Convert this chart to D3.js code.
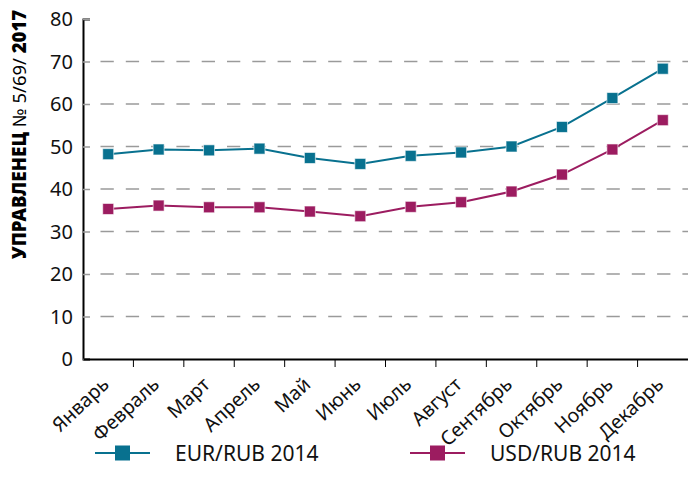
<!DOCTYPE html>
<html>
<head>
<meta charset="utf-8">
<script src="https://cdn.jsdelivr.net/npm/d3@7"></script>
<style>
  body { margin: 0; background: #fff; }
  svg { display: block; }
</style>
</head>
<body>
<script>
const width = 688;
const height = 490;

const months = ["Январь", "Февраль", "Март", "Апрель", "Май", "Июнь",
  "Июль", "Август", "Сентябрь", "Октябрь", "Ноябрь", "Декабрь"];
const eurRub = [48.2, 49.3, 49.1, 49.5, 47.3, 45.9, 47.8, 48.6, 50.0, 54.6, 61.4, 68.3];
const usdRub = [35.3, 36.1, 35.7, 35.7, 34.7, 33.6, 35.8, 36.9, 39.4, 43.4, 49.3, 56.2];
const yTicks = [0, 10, 20, 30, 40, 50, 60, 70, 80];
const seriesNames = ["EUR/RUB 2014", "USD/RUB 2014"];
const colors = ["#08718f", "#9c1c60"];

const plotLeft = 83, plotRight = 688, plotTop = 19, plotBottom = 359;

const svg = d3.select("body").append("svg")
  .attr("width", width)
  .attr("height", height);

const x = d3.scaleBand().domain(months).range([plotLeft, plotRight]);
const y = d3.scaleLinear().domain([0, 80]).range([plotBottom, plotTop]);

// gridlines
svg.selectAll(".grid")
  .data(yTicks.filter(d => d > 0 && d < 80))
  .enter()
  .append("line")
    .attr("x1", plotLeft + 17.5)
    .attr("x2", plotRight)
    .attr("y1", d => y(d))
    .attr("y2", d => y(d))
    .attr("stroke", "#9a9a9a")
    .attr("stroke-width", 1.5)
    .attr("stroke-dasharray", "13.3,12");

// y axis
const yAxis = svg.append("g")
  .attr("transform", "translate(" + plotLeft + ",0)")
  .call(d3.axisRight(y).tickValues(yTicks).tickSize(7).tickFormat(""));
yAxis.select(".domain").attr("stroke", "#000").attr("stroke-width", 2);
yAxis.selectAll(".tick line").attr("stroke", "#9a9a9a").attr("stroke-width", 1.5);

svg.selectAll(".ylabel")
  .data(yTicks)
  .enter()
  .append("text")
    .attr("x", 73)
    .attr("y", d => y(d) + 7)
    .attr("text-anchor", "end")
    .attr("font-family", "Noto Sans")
    .attr("font-size", 20)
    .attr("fill", "#111")
    .text(d => d);

// x axis
const xAxis = svg.append("g")
  .attr("transform", "translate(0," + plotBottom + ")")
  .call(d3.axisBottom(x).tickSize(0).tickFormat(""));
xAxis.select(".domain").attr("stroke", "#000").attr("stroke-width", 2);

svg.selectAll(".xtick")
  .data(months.slice(1))
  .enter()
  .append("line")
    .attr("x1", d => x(d))
    .attr("x2", d => x(d))
    .attr("y1", plotBottom)
    .attr("y2", plotBottom + 8)
    .attr("stroke", "#000")
    .attr("stroke-width", 1);

svg.selectAll(".xlabel")
  .data(months)
  .enter()
  .append("text")
    .attr("transform", d => "translate(" + (x(d) + x.bandwidth() / 2 + 2) + "," + (plotBottom + 27) + ") rotate(-43)")
    .attr("text-anchor", "end")
    .attr("font-family", "Noto Sans")
    .attr("font-size", 19.5)
    .attr("fill", "#111")
    .text(d => d);

// series
const line = d3.line()
  .x((d, i) => x(months[i]) + x.bandwidth() / 2)
  .y(d => y(d));

[eurRub, usdRub].forEach(function (values, k) {
  svg.append("path")
    .datum(values)
    .attr("d", line)
    .attr("fill", "none")
    .attr("stroke", colors[k])
    .attr("stroke-width", 2);
  svg.selectAll(".pt" + k)
    .data(values)
    .enter()
    .append("rect")
      .attr("x", (d, i) => x(months[i]) + x.bandwidth() / 2 - 5.5)
      .attr("y", d => y(d) - 5.5)
      .attr("width", 11)
      .attr("height", 11)
      .attr("fill", colors[k])
      .attr("stroke", "#fff")
      .attr("stroke-opacity", 0.6)
      .attr("stroke-width", 1);
});

// legend
const legendX = [95, 410];
seriesNames.forEach(function (name, k) {
  const g = svg.append("g").attr("transform", "translate(" + legendX[k] + ",453)");
  g.append("line")
    .attr("x1", 0).attr("x2", 55)
    .attr("stroke", colors[k])
    .attr("stroke-width", 2);
  g.append("rect")
    .attr("x", 20).attr("y", -7.5)
    .attr("width", 15).attr("height", 15)
    .attr("fill", colors[k]);
  g.append("text")
    .attr("x", 80)
    .attr("y", 7.5)
    .attr("font-family", "Noto Sans")
    .attr("font-size", 21)
    .attr("fill", "#111")
    .text(name);
});

// side caption
const cap = svg.append("text")
  .attr("transform", "translate(26,259) rotate(-90)")
  .attr("font-family", "Noto Sans")
  .attr("font-size", 18.5)
  .attr("fill", "#000");
cap.append("tspan").attr("font-weight", "900").text("УПРАВЛЕНЕЦ");
cap.append("tspan").text(" № 5/69/ ");
cap.append("tspan").attr("font-weight", "900").text("2017");
</script>
</body>
</html>
